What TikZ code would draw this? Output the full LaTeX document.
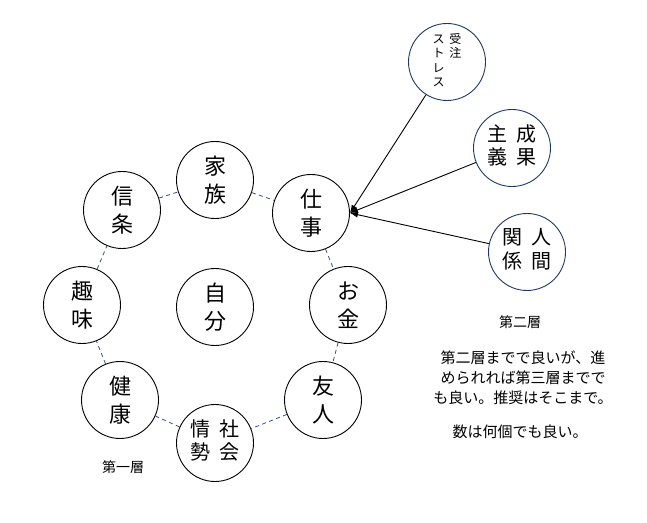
\documentclass[tikz,border=0pt]{standalone}
\usepackage{fontspec}
\setmainfont{Noto Sans CJK JP}
\usepackage{pgf,tikz}
\usetikzlibrary{calc,shapes,positioning,arrows,arrows.meta}
\definecolor{RingBlue}{HTML}{3B4E78}
\definecolor{EdgeBlue}{HTML}{1F3864}
\tikzset{Disc/.style={draw=#1,circle,minimum size=77pt,inner sep=0pt,line width=0.9pt,align=center,font=\fontsize{22}{28}\selectfont}}
\tikzset{Pair/.style={font=\fontsize{20}{23}\selectfont}}
\tikzset{Link/.style={draw=RingBlue,line width=0.8pt,dash pattern=on 4pt off 3.5pt}}
\newcommand{\twocol}[4]{\begin{tabular}{@{}c@{\hspace{9pt}}c@{}}#1&#2\\#3&#4\end{tabular}}

\begin{document}
\begin{tikzpicture}[x=1pt,y=1pt]
            \useasboundingbox (0,0) rectangle (647,522);
            \node[Disc=black] (n1) at (215,342) {家\\族};
            \node[Disc=black] (n2) at (311,309) {仕\\事};
            \node[Disc=black] (n3) at (348,217) {お\\金};
            \node[Disc=black] (n4) at (323,122) {友\\人};
            \node[Disc=black,Pair] (n5) at (215,79) {\twocol{情}{社}{勢}{会}};
            \node[Disc=black] (n6) at (120,122) {健\\康};
            \node[Disc=black] (n7) at (82,217) {趣\\味};
            \node[Disc=black] (n8) at (122,312) {信\\条};
            \node[Disc=black] (n9) at (215,215) {自\\分};
            \node[Disc=EdgeBlue,font=\fontsize{12}{14.5}\selectfont] (s1) at (447,460) {\begin{tabular}[t]{@{}c@{\hspace{5pt}}c@{}}ス&受\\ト&注\\レ&\\ス&\end{tabular}};
            \node[Disc=EdgeBlue,Pair] (s2) at (512,374) {\twocol{主}{成}{義}{果}};
            \node[Disc=EdgeBlue,Pair] (s3) at (527,270) {\twocol{関}{人}{係}{間}};
            \node[font=\fontsize{14}{16}\selectfont] (l1) at (123,55) {第一層};
            \node[font=\fontsize{14}{16}\selectfont] (l2) at (520,200) {第二層};
            \node[align=center,font=\fontsize{15}{20}\selectfont] (t1) at (523,144) {第二層までで良いが、進\\められれば第三層までで\\も良い。推奨はそこまで。};
            \node[font=\fontsize{15}{20}\selectfont] (t2) at (520,90) {数は何個でも良い。};
            \draw[Link] (n1) -- (n2);
            \draw[Link] (n2) -- (n3);
            \draw[Link] (n3) -- (n4);
            \draw[Link] (n4) -- (n5);
            \draw[Link] (n5) -- (n6);
            \draw[Link] (n6) -- (n7);
            \draw[Link] (n7) -- (n8);
            \draw[Link] (n8) -- (n1);
            \draw[-{Latex[length=8pt,width=6pt]},line width=0.9pt] (s1) -- (n2.east);
            \draw[-{Latex[length=8pt,width=6pt]},line width=0.9pt] (s2) -- (n2.east);
            \draw[-{Latex[length=8pt,width=6pt]},line width=0.9pt] (s3) -- (n2.east);
        \end{tikzpicture}
\end{document}
